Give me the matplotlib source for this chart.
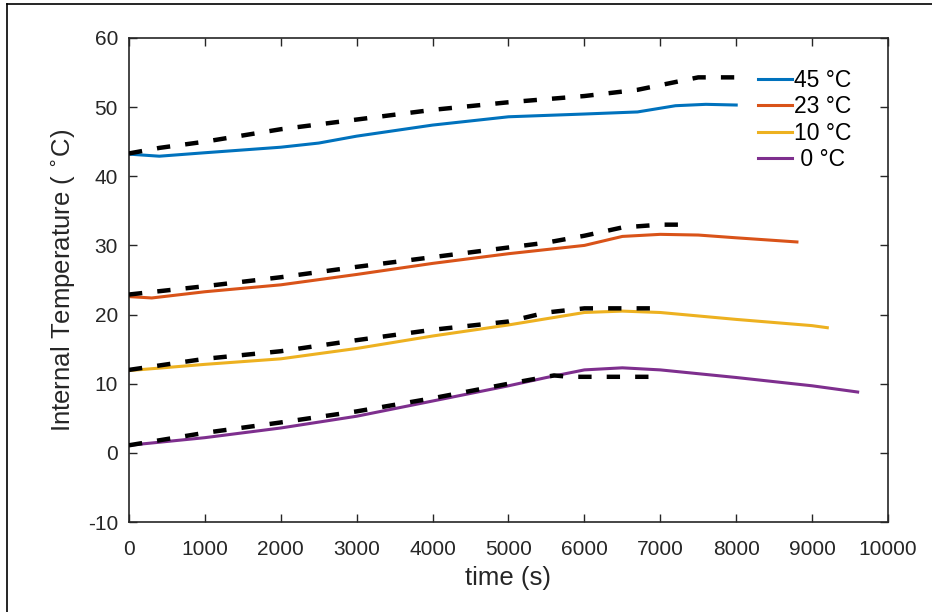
import matplotlib
matplotlib.use("Agg")
import matplotlib.pyplot as plt
from matplotlib.lines import Line2D

plt.rcParams["font.family"] = ["Liberation Sans", "DejaVu Sans"]
plt.rcParams["axes.unicode_minus"] = False

# ── Data ─────────────────────────────────────────────────────────────────────
t_45 = [0, 400, 1000, 2000, 2500, 3000, 4000, 5000, 6000, 6700, 7200, 7600, 8000]
T_45 = [43.2, 42.9, 43.4, 44.2, 44.8, 45.8, 47.4, 48.6, 49.0, 49.3, 50.2, 50.4, 50.3]
t_45_ref = [0, 400, 1000, 2000, 3000, 4000, 5000, 6000, 6700, 7100, 7500, 8000]
T_45_ref = [43.3, 44.1, 45.0, 46.8, 48.2, 49.6, 50.7, 51.6, 52.5, 53.4, 54.3, 54.3]

t_23 = [0, 300, 1000, 2000, 3000, 4000, 5000, 6000, 6500, 7000, 7500, 8000, 8800]
T_23 = [22.6, 22.4, 23.3, 24.3, 25.8, 27.4, 28.8, 30.0, 31.3, 31.6, 31.5, 31.1, 30.5]
t_23_ref = [0, 1000, 2000, 3000, 4000, 5000, 5500, 6000, 6500, 7000, 7400]
T_23_ref = [22.9, 24.1, 25.4, 26.9, 28.3, 29.7, 30.4, 31.4, 32.6, 33.0, 33.0]

t_10 = [0, 1000, 2000, 3000, 4000, 5000, 5500, 6000, 6500, 7000, 8000, 9000, 9200]
T_10 = [11.9, 12.8, 13.6, 15.1, 16.9, 18.5, 19.4, 20.3, 20.5, 20.3, 19.3, 18.4, 18.1]
t_10_ref = [0, 1000, 2000, 3000, 4000, 5000, 5500, 6000, 7000]
T_10_ref = [12.0, 13.6, 14.7, 16.3, 17.8, 19.0, 20.3, 20.9, 20.9]

t_0 = [0, 1000, 2000, 3000, 4000, 5000, 5500, 6000, 6500, 7000, 8000, 9000, 9600]
T_0 = [1.1, 2.2, 3.6, 5.3, 7.5, 9.7, 10.9, 12.0, 12.3, 12.0, 10.9, 9.7, 8.8]
t_0_ref = [0, 1000, 2000, 3000, 4000, 5000, 5600, 5800, 7000]
T_0_ref = [1.1, 2.9, 4.4, 6.0, 7.9, 10.0, 11.2, 11.0, 11.0]

labels = ["45 °C", "23 °C", "10 °C", " 0 °C"]
colors = ["#0072BD", "#D95319", "#EDB120", "#7E2F8E"]

# ── Plot ─────────────────────────────────────────────────────────────────────
fig = plt.figure(figsize=(9.32, 6.12), dpi=100)
ax = fig.add_axes([0.1384, 0.147, 0.8144, 0.791])

sim = [(t_45, T_45), (t_23, T_23), (t_10, T_10), (t_0, T_0)]
ref = [(t_45_ref, T_45_ref), (t_23_ref, T_23_ref), (t_10_ref, T_10_ref), (t_0_ref, T_0_ref)]

for (t, T), c, lab in zip(sim, colors, labels):
    ax.plot(t, T, color=c, lw=2.2, label=lab, zorder=2)
for t, T in ref:
    ax.plot(t, T, color="black", lw=3.2, dashes=(3.0, 3.4), zorder=3)

ax.set_xlim(0, 10000)
ax.set_ylim(-10, 60)
ax.set_xticks(range(0, 10001, 1000))
ax.set_yticks(range(-10, 61, 10))
ax.tick_params(direction="in", top=True, right=True, length=6, width=1,
               labelsize=15, colors="#262626")
ax.tick_params(axis="x", pad=13)
ax.tick_params(axis="y", pad=8)
for s in ax.spines.values():
    s.set_color("#262626")
    s.set_linewidth(1.2)

ax.set_xlabel("time (s)", fontsize=18.5, color="#262626", labelpad=5)
ax.set_ylabel("Internal Temperature ( $^{\\circ}$C)", fontsize=18.5,
              color="#262626", labelpad=8)

ax.legend(loc="upper left", bbox_to_anchor=(0.816, 0.955), frameon=False,
          fontsize=16.5, handlelength=1.5, handletextpad=0.1,
          labelspacing=0.15, borderaxespad=0)

# frame lines of the page
fig.add_artist(Line2D([7 / 932, 1], [1 - 4 / 612, 1 - 4 / 612],
                      color="black", lw=1.2, transform=fig.transFigure))
fig.add_artist(Line2D([7 / 932, 7 / 932], [0, 1 - 4 / 612],
                      color="black", lw=1.2, transform=fig.transFigure))

fig.savefig("out.png", dpi=100)
